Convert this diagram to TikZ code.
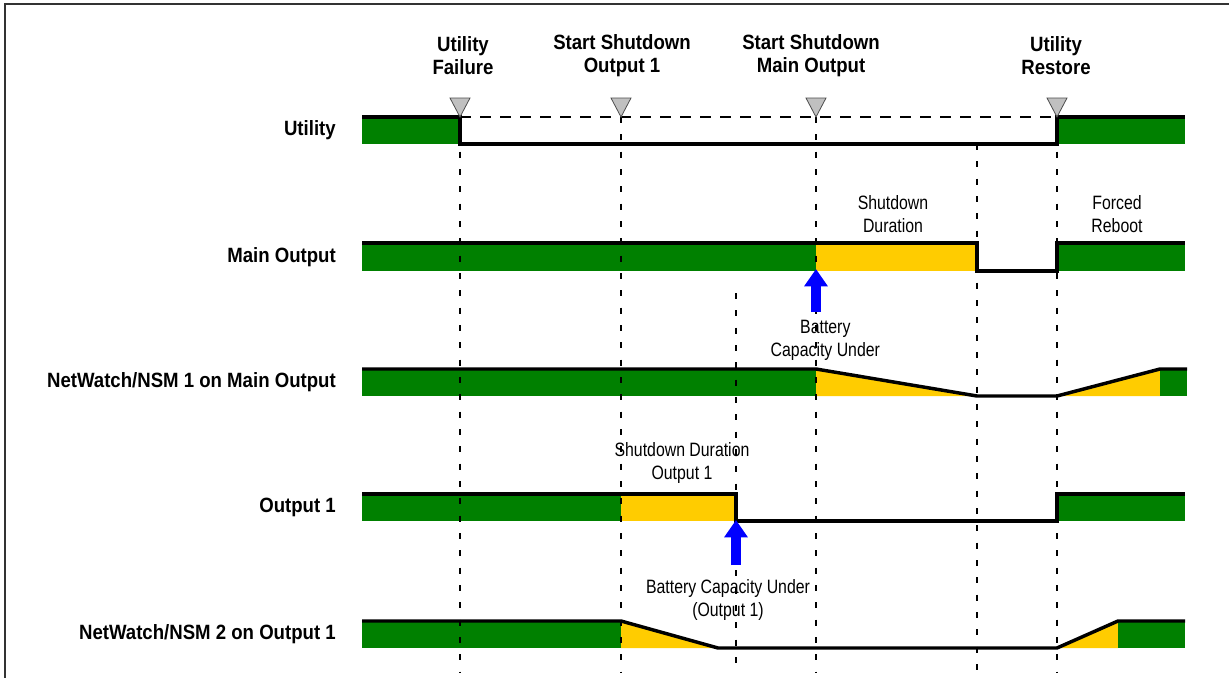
\documentclass[tikz,border=0pt]{standalone}
\usepackage{fontspec}
\setmainfont{Liberation Sans}
\newfontfamily\headfont{Liberation Sans}[FakeStretch=0.9]
\newfontfamily\notefont{Liberation Sans}[FakeStretch=0.82]
\usetikzlibrary{arrows.meta,positioning}
\definecolor{ok}{HTML}{008000}
\definecolor{warn}{HTML}{FFCC00}
\definecolor{markgray}{HTML}{C0C0C0}
\definecolor{batt}{HTML}{0000FF}
\tikzset{
  sig/.style={line width=2.6pt,line join=miter},
  ev/.style={line width=1.7pt,dash pattern=on 4.5pt off 8.5pt},
  lvl/.style={line width=2pt,dash pattern=on 8pt off 7pt},
  tick/.style={fill=markgray,draw=black!70,line width=0.6pt},
  rowlbl/.style={anchor=east,font=\headfont\bfseries\fontsize{15.5}{17.25}\selectfont,inner sep=0pt},
  evlbl/.style={align=center,font=\headfont\bfseries\fontsize{15.5}{17.25}\selectfont,inner sep=0pt},
  note/.style={align=center,font=\notefont\fontsize{14.5}{17.25}\selectfont,inner sep=0pt},
  up/.style={draw=batt,line width=7.5pt,-{Triangle[width=17pt,length=13pt]}}
}

\begin{document}
\begin{tikzpicture}[x=0.75pt,y=-0.75pt]
 \useasboundingbox (0,0) rectangle (1229,678);
 \draw[line width=1.2pt,black!80] (5,678) -- (5,4) -- (1229,4);

 \fill[ok] (362,117) rectangle (460,144);
 \fill[ok] (1057,117) rectangle (1185,144);
 \fill[ok] (362,243) rectangle (816,271);
 \fill[warn] (816,243) rectangle (977,271);
 \fill[ok] (1057,243) rectangle (1185,271);
 \fill[ok] (362,369) rectangle (816,396);
 \fill[warn] (816,369) -- (977,396) -- (816,396) -- cycle;
 \fill[warn] (1057,396) -- (1160,369) -- (1160,396) -- cycle;
 \fill[ok] (1160,369) rectangle (1187,396);
 \fill[ok] (362,494) rectangle (621,521);
 \fill[warn] (621,494) rectangle (736,521);
 \fill[ok] (1057,494) rectangle (1185,521);
 \fill[ok] (362,621) rectangle (621,648);
 \fill[warn] (621,621) -- (718,648) -- (621,648) -- cycle;
 \fill[warn] (1057,648) -- (1118,621) -- (1118,648) -- cycle;
 \fill[ok] (1118,621) rectangle (1185,648);

 \draw[sig] (362,117) -- (460,117) -- (460,144) -- (1057,144) -- (1057,117) -- (1185,117);
 \draw[lvl] (460,117) -- (1057,117);
 \draw[sig] (362,243) -- (977,243) -- (977,271) -- (1057,271) -- (1057,243) -- (1185,243);
 \draw[sig] (362,369) -- (816,369) -- (977,396) -- (1057,396) -- (1160,369) -- (1187,369);
 \draw[sig] (362,494) -- (736,494) -- (736,521) -- (1057,521) -- (1057,494) -- (1185,494);
 \draw[sig] (362,621) -- (621,621) -- (718,648) -- (1057,648) -- (1118,621) -- (1185,621);

 \foreach \x in {460,621,816,1057}
   \draw[ev] (\x,117) -- (\x,672);
 \draw[ev] (977,144) -- (977,672);
 \draw[ev] (736,293) -- (736,672);
 \foreach \x in {460,621,816,1057}
   \filldraw[tick] (\x,117) -- (\x-10,98) -- (\x+10,98) -- cycle;

 \node[evlbl] (fail) at (463,56) {Utility\\Failure};
 \node[evlbl] (sd1) at (622,56) {Start Shutdown\\Output 1};
 \node[evlbl] (sdm) at (811,56) {Start Shutdown\\Main Output};
 \node[evlbl] (rest) at (1056,56) {Utility\\Restore};

 \node[rowlbl] (util) at (336,130) {Utility};
 \node[rowlbl] (mout) at (336,257) {Main Output};
 \node[rowlbl] (nsm1) at (336,382) {NetWatch/NSM 1 on Main Output};
 \node[rowlbl] (out1) at (336,507) {Output 1};
 \node[rowlbl] (nsm2) at (336,634) {NetWatch/NSM 2 on Output 1};

 \node[note] (sdur) at (893,214) {Shutdown\\Duration};
 \node[note] (boot) at (1117,214) {Forced\\Reboot};
 \node[note] (sdur1) at (682,463) {Shutdown Duration\\Output 1};

 \coordinate (bm) at (816,312);
 \coordinate (bmt) at (816,269);
 \coordinate (bo) at (736,565);
 \coordinate (bot) at (736,520);
 \draw[up] (bm) -- (bmt);
 \draw[up] (bo) -- (bot);
 \node[note,below=6pt of bm,xshift=7pt] (cap) {Battery\\Capacity Under};
 \node[note,below=11pt of bo,xshift=-6pt] (cap1) {Battery Capacity Under\\(Output 1)};
\end{tikzpicture}
\end{document}
